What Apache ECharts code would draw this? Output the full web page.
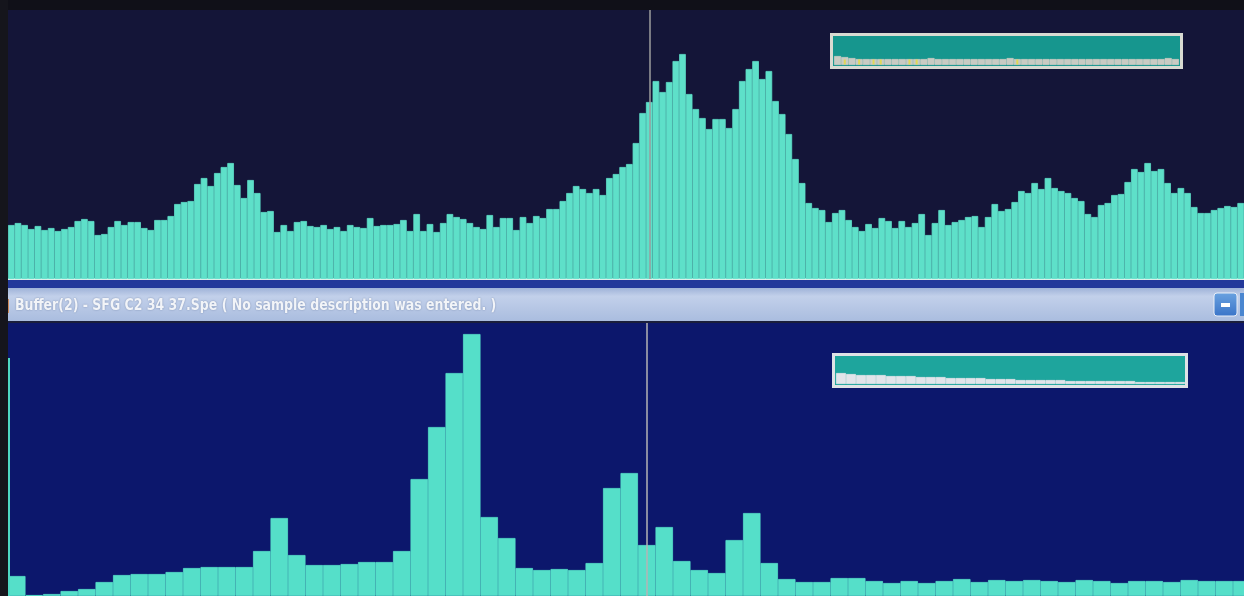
<!DOCTYPE html>
<html><head><meta charset="utf-8">
<script src="https://cdn.jsdelivr.net/npm/echarts@6/dist/echarts.min.js"></script>
<style>html,body{margin:0;padding:0;background:#101018;overflow:hidden}#c{width:1244px;height:596px;}</style>
</head><body><div id="c"></div>
<script>
// Top spectrum (channel counts, arbitrary units)
const topCounts = [
54,56,54,50,53,49,51,48,50,52,58,60,58,44,45,52,58,54,57,57,51,49,59,59,63,75,77,78,95,101,93,106,112,116,94,81,99,86,67,68,47,54,48,57,58,53,52,54,50,52,48,54,52,51,61,53,54,54,55,59,48,65,
48,55,47,56,65,62,60,56,52,50,64,52,61,61,49,62,56,63,61,70,70,78,86,93,90,86,90,84,101,105,112,115,136,166,177,198,187,197,218,225,185,170,161,150,160,160,151,170,198,210,218,200,208,178,165,145,120,96,76,71,69,57,
66,69,59,52,48,55,51,61,58,51,58,52,56,65,44,56,69,54,57,59,62,63,52,62,75,68,70,77,88,86,96,90,101,91,88,86,81,78,65,62,74,76,84,85,97,110,107,116,108,110,96,86,91,86,72,66,66,69,71,73,72,76
];
// Bottom spectrum (channel counts, arbitrary units)
const bottomCounts = [
20,1,2,5,7,14,21,22,22,24,28,29,29,29,45,78,41,31,31,32,34,34,45,117,169,223,262,79,58,28,26,27,26,33,108,123,51,69,35,26,23,56,83,33,17,14,14,18,18,15,13,15,13,15,17,14,16,15,16,15,14,16,15,13,15,15,14,16,15,15,15
];
// Overview insets
const topOverview = [9,8,7,6,6,6,6,6,6,6,6,6,6,7,6,6,6,6,6,6,6,6,6,6,7,6,6,6,6,6,6,6,6,6,6,6,6,6,6,6,6,6,6,6,6,6,7,6];
const topOverviewMarkers = [1,3,5,6,10,11,25];
const bottomOverview = [11,10,9,9,9,8,8,8,7,7,7,6,6,6,6,5,5,5,4,4,4,4,4,3,3,3,3,3,3,3,2,2,2,2,2];
const titleText = "Buffer(2) - SFG C2 34 37.Spe ( No sample description was entered. )";
const topCursorIndex = 96;
const bottomCursorIndex = 36;

const idx = n => Array.from({length: n}, (_, i) => String(i));
const topColor = '#5ee0c9';
const bottomColor = '#55dfc9';
const chart = echarts.init(document.getElementById('c'), null, {renderer: 'canvas'});
const hiddenCat = (gi, n) => ({type: 'category', gridIndex: gi, data: idx(n), show: false, boundaryGap: true});
const hiddenVal = (gi, max) => ({type: 'value', gridIndex: gi, min: 0, max: max, show: false});

chart.setOption({
  animation: false,
  backgroundColor: '#101018',
  grid: [
    {left: 8, top: 10, width: 1236, height: 269, show: true, backgroundColor: '#141538', borderWidth: 0, outerBoundsMode: 'none'},
    {left: 8, top: 323, width: 1242.5, height: 273, show: true, backgroundColor: '#0c176c', borderWidth: 0, outerBoundsMode: 'none'},
    {left: 834, top: 37, width: 345, height: 28, outerBoundsMode: 'none'},
    {left: 836, top: 357, width: 349, height: 27, outerBoundsMode: 'none'}
  ],
  xAxis: [
    {type: 'category', gridIndex: 0, data: idx(topCounts.length), boundaryGap: true,
     axisLine: {show: true, lineStyle: {color: '#e4f0ec', width: 2}}, axisTick: {show: false}, axisLabel: {show: false}},
    hiddenCat(1, bottomCounts.length),
    hiddenCat(2, topOverview.length),
    hiddenCat(3, bottomOverview.length)
  ],
  yAxis: [hiddenVal(0, 269), hiddenVal(1, 273), hiddenVal(2, 28), hiddenVal(3, 27)],
  graphic: [
    {type: 'rect', shape: {x: 0, y: 280, width: 1244, height: 8}, style: {fill: '#22389a'}, z: 5},
    {type: 'rect', shape: {x: 0, y: 288, width: 1244, height: 33},
     style: {fill: new echarts.graphic.LinearGradient(0, 0, 0, 1, [{offset: 0, color: '#9fb3d8'}, {offset: 0.25, color: '#c2d0ea'}, {offset: 1, color: '#aabddf'}])}, z: 5},
    {type: 'rect', shape: {x: 0, y: 321, width: 1244, height: 2}, style: {fill: '#1b1f3c'}, z: 5},
    {type: 'rect', shape: {x: 4, y: 299, width: 5, height: 14}, style: {fill: '#d08a5a'}, z: 6},
    {type: 'text', x: 15, y: 298, scaleX: 0.87, originX: 0, z: 6,
     style: {text: titleText, fill: '#f2f4f8', font: 'bold 16px "Liberation Sans Narrow", "DejaVu Sans Condensed", sans-serif',
             textShadowColor: 'rgba(60,80,120,0.5)', textShadowBlur: 2}},
    {type: 'rect', shape: {x: 1214, y: 293, width: 23, height: 23, r: 3},
     style: {fill: new echarts.graphic.LinearGradient(0, 0, 0, 1, [{offset: 0, color: '#6aa2e0'}, {offset: 1, color: '#3a74c8'}]), stroke: '#e8eef8', lineWidth: 1}, z: 6},
    {type: 'rect', shape: {x: 1221, y: 303, width: 9, height: 4}, style: {fill: '#ffffff'}, z: 7},
    {type: 'rect', shape: {x: 1240, y: 293, width: 6, height: 23}, style: {fill: '#4a86d0'}, z: 6},
    {type: 'rect', shape: {x: 0, y: 0, width: 8, height: 596}, style: {fill: '#15151c'}, z: 6},
    {type: 'rect', shape: {x: 8, y: 358, width: 2, height: 238}, style: {fill: '#4fd8c4'}, z: 6},
    {type: 'rect', shape: {x: 831.5, y: 34.5, width: 350, height: 33}, style: {fill: '#16968e', stroke: '#d9dbd2', lineWidth: 3}, z: 1},
    {type: 'rect', shape: {x: 833.5, y: 354.5, width: 353, height: 32}, style: {fill: '#1ea59d', stroke: '#dfe2e6', lineWidth: 3}, z: 1}
  ],
  series: [
    {type: 'bar', xAxisIndex: 0, yAxisIndex: 0, data: topCounts, barCategoryGap: '0%', barGap: '0%',
     itemStyle: {color: topColor, borderColor: topColor, borderWidth: 0.8}, silent: true,
     markLine: {silent: true, symbol: 'none', label: {show: false}, lineStyle: {color: '#9c9c9c', width: 1.5, type: 'solid'},
                data: [{xAxis: topCursorIndex}]}},
    {type: 'bar', xAxisIndex: 1, yAxisIndex: 1, data: bottomCounts, barCategoryGap: '0%', barGap: '0%',
     itemStyle: {color: bottomColor, borderColor: bottomColor, borderWidth: 0.8}, silent: true,
     markLine: {silent: true, symbol: 'none', label: {show: false}, lineStyle: {color: '#b4b4b4', width: 1.5, type: 'solid'},
                data: [{xAxis: bottomCursorIndex}]}},
    {type: 'bar', xAxisIndex: 2, yAxisIndex: 2, data: topOverview, barCategoryGap: '0%',
     itemStyle: {color: '#c9cbc3', borderColor: '#c9cbc3', borderWidth: 0.8}, silent: true, z: 3},
    {type: 'scatter', xAxisIndex: 2, yAxisIndex: 2, data: topOverviewMarkers.map(i => [String(i), 3]), symbol: 'rect', symbolSize: [2, 5],
     itemStyle: {color: '#e6dc3c'}, silent: true, z: 4},
    {type: 'bar', xAxisIndex: 3, yAxisIndex: 3, data: bottomOverview, barCategoryGap: '0%',
     itemStyle: {color: '#e2e4ea', borderColor: '#e2e4ea', borderWidth: 0.8}, silent: true, z: 3}
  ]
});
</script></body></html>
